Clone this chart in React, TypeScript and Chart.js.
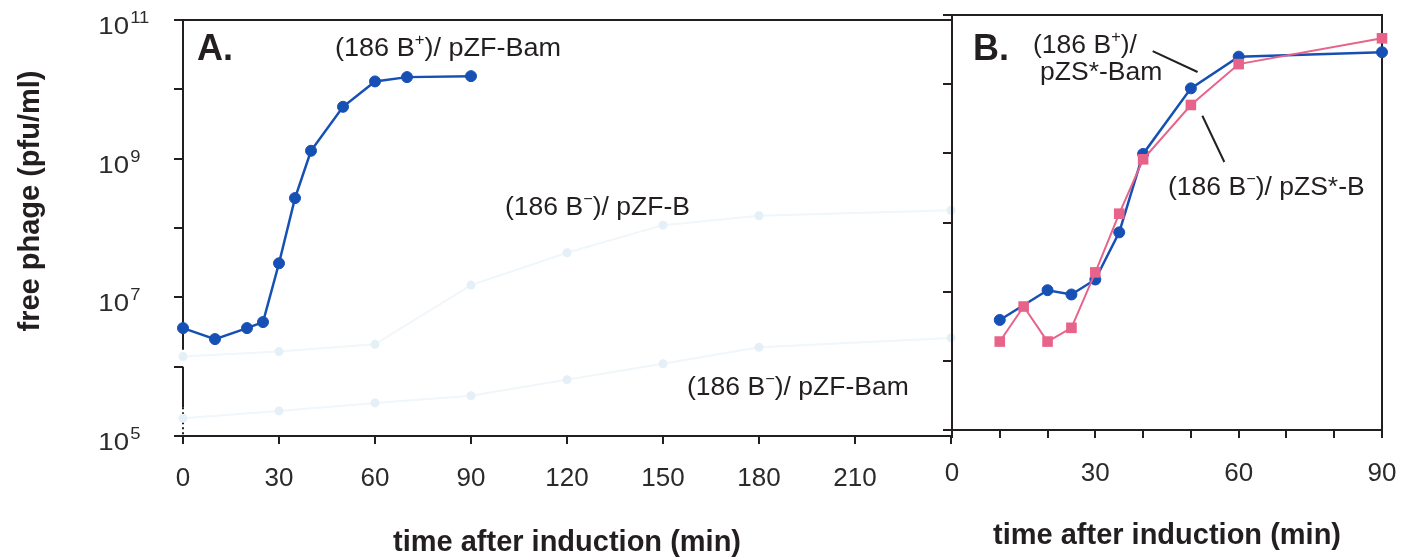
import React, { useEffect, useRef } from 'react';
import { Chart, registerables } from 'chart.js';

Chart.register(...registerables);

// ---------- Panel A data ----------
const timesA_Bplus = [0, 10, 20, 25, 30, 35, 40, 50, 60, 70, 90];
const pfuA_Bplus = [3.6e6, 2.5e6, 3.6e6, 4.4e6, 3.1e7, 2.7e8, 1.3e9, 5.6e9, 1.3e10, 1.5e10, 1.55e10];
const timesA_Bminus = [0, 30, 60, 90, 120, 150, 180, 240];
const pfuA_Bminus_pZFB = [1.4e6, 1.65e6, 2.1e6, 1.5e7, 4.4e7, 1.1e8, 1.5e8, 1.8e8];
const pfuA_Bminus_pZFBam = [1.8e5, 2.3e5, 3.0e5, 3.8e5, 6.5e5, 1.1e6, 1.9e6, 2.6e6];

// ---------- Panel B data ----------
const timesB_Bplus = [10, 20, 25, 30, 35, 40, 50, 60, 90];
const pfuB_Bplus = [3.9e6, 1.05e7, 9.1e6, 1.5e7, 7.2e7, 9.8e8, 8.7e9, 2.5e10, 2.9e10];
const timesB_Bminus = [10, 15, 20, 25, 30, 35, 40, 50, 60, 90];
const pfuB_Bminus = [1.9e6, 6.1e6, 1.9e6, 3.0e6, 1.9e7, 1.34e8, 8.2e8, 5.0e9, 1.95e10, 4.6e10];

// ---------- ticks ----------
const xTicksA = [0, 30, 60, 90, 120, 150, 180, 210, 240];
const xLabelsA = ['0', '30', '60', '90', '120', '150', '180', '210', ''];
const xTicksB = [0, 10, 20, 30, 40, 50, 60, 70, 80, 90];
const xLabelsB = ['0', '', '', '30', '', '', '60', '', '', '90'];
const yTickValues = [1e5, 1e6, 1e7, 1e8, 1e9, 1e10, 1e11];
const yLabelExponents = [5, 7, 9, 11];

// leader lines in panel B (time, pfu) -> (time, pfu)
const leaderLinesB = [
  [42, 3.0e10, 51.4, 1.5e10],
  [52.4, 3.5e9, 57, 7.5e8],
];

const FONT = '"Liberation Sans", Arial, Helvetica, sans-serif';
const INK = '#231f20';
const BLUE = '#1650b4';
const PINK = '#e8638a';
const FAINT_LINE = '#f0f6fa';
const FAINT_POINT = '#e4f0f7';

type Part = [string, boolean];

function drawRich(ctx: CanvasRenderingContext2D, x: number, y: number, parts: Part[], size: number, sx = 1, bold = false) {
  ctx.save();
  ctx.translate(x, y);
  ctx.scale(sx, 1);
  ctx.textAlign = 'left';
  ctx.textBaseline = 'alphabetic';
  ctx.fillStyle = INK;
  let cx = 0;
  for (const [txt, sup] of parts) {
    const s = sup ? Math.round(size * 0.62) : size;
    ctx.font = `${bold ? 'bold ' : ''}${s}px ${FONT}`;
    ctx.fillText(txt, cx, sup ? -size * 0.42 : 0);
    cx += ctx.measureText(txt).width;
  }
  ctx.restore();
}

function pts(xs: number[], ys: number[]) {
  return xs.map((x, i) => ({ x, y: ys[i] }));
}

function xScale(min: number, max: number, ticksArr: number[], labels: string[], pad: number, height: number, titlePad: number) {
  return {
    type: 'linear',
    min,
    max,
    afterBuildTicks: (s: any) => {
      s.ticks = ticksArr.map((v) => ({ value: v }));
    },
    ticks: {
      callback: (v: any) => {
        const i = ticksArr.indexOf(Number(v));
        return i >= 0 ? labels[i] : '';
      },
      font: { family: FONT, size: 26 },
      color: '#2b2b2b',
      padding: pad,
      maxRotation: 0,
      autoSkip: false,
    },
    grid: { drawOnChartArea: false, drawTicks: true, tickLength: 8, color: INK, lineWidth: 2 },
    border: { display: true, color: INK, width: 2 },
    title: {
      display: true,
      text: 'time after induction (min)',
      font: { family: FONT, size: 29, weight: 'bold', lineHeight: 1 },
      color: INK,
      padding: { top: 0, bottom: titlePad },
    },
    afterFit: (s: any) => {
      s.height = height;
      s.paddingLeft = 0;
      s.paddingRight = 0;
    },
  };
}

function yScale(width: number, border: boolean) {
  return {
    type: 'logarithmic',
    min: 1e5,
    max: 1e11,
    afterBuildTicks: (s: any) => {
      s.ticks = yTickValues.map((v) => ({ value: v }));
    },
    ticks: { callback: () => '', padding: 0 },
    grid: { drawOnChartArea: false, drawTicks: true, tickLength: 9, color: INK, lineWidth: 2 },
    border: { display: border, color: INK, width: 2 },
    afterFit: (s: any) => {
      s.width = width;
      s.paddingTop = 0;
      s.paddingBottom = 0;
    },
  };
}

export default function App() {
  const refA = useRef<HTMLCanvasElement>(null);
  const refB = useRef<HTMLCanvasElement>(null);

  useEffect(() => {
    const pluginA = {
      id: 'panelA',
      beforeDatasetsDraw(chart: any) {
        const { ctx, chartArea, scales } = chart;
        const { left, right, top, bottom } = chartArea;
        const y = scales.y;
        ctx.save();
        ctx.strokeStyle = INK;
        ctx.lineWidth = 2;
        ctx.beginPath();
        ctx.moveTo(left - 1, top);
        ctx.lineTo(right + 2, top);
        ctx.moveTo(left, top);
        ctx.lineTo(left, y.getPixelForValue(1.75e6));
        ctx.moveTo(left, y.getPixelForValue(1e6));
        ctx.lineTo(left, y.getPixelForValue(2.6e5));
        ctx.stroke();
        ctx.setLineDash([2, 3]);
        ctx.beginPath();
        ctx.moveTo(left, y.getPixelForValue(2.6e5));
        ctx.lineTo(left, bottom);
        ctx.stroke();
        ctx.restore();
      },
      afterDraw(chart: any) {
        const { ctx, scales } = chart;
        const y = scales.y;
        // y tick labels 10^n
        for (const e of yLabelExponents) {
          const py = y.getPixelForValue(Math.pow(10, e));
          ctx.save();
          ctx.fillStyle = '#2b2b2b';
          ctx.textBaseline = 'alphabetic';
          ctx.translate(129, py + 14);
          ctx.scale(1.15, 1);
          ctx.font = `24px ${FONT}`;
          ctx.textAlign = 'right';
          ctx.fillText('10', 0, 0);
          ctx.font = `16px ${FONT}`;
          ctx.textAlign = 'left';
          ctx.fillText(String(e), 1, -11);
          ctx.restore();
        }
        // y axis title
        ctx.save();
        ctx.translate(31, 201);
        ctx.rotate(-Math.PI / 2);
        ctx.font = `bold 29px ${FONT}`;
        ctx.fillStyle = INK;
        ctx.textAlign = 'center';
        ctx.textBaseline = 'middle';
        ctx.fillText('free phage (pfu/ml)', 0, 0);
        ctx.restore();
        // panel letter and labels
        drawRich(ctx, 197, 60, [['A.', false]], 36, 1, true);
        drawRich(ctx, 335, 56, [['(186 B', false], ['+', true], [')/ pZF-Bam', false]], 26, 1.04);
        drawRich(ctx, 505, 215, [['(186 B', false], ['\u2212', true], [')/ pZF-B', false]], 26, 1.02);
        drawRich(ctx, 687, 395, [['(186 B', false], ['\u2212', true], [')/ pZF-Bam', false]], 26, 1.02);
      },
    };

    const pluginB = {
      id: 'panelB',
      beforeDatasetsDraw(chart: any) {
        const { ctx, chartArea } = chart;
        const { left, right, top, bottom } = chartArea;
        ctx.save();
        ctx.strokeStyle = INK;
        ctx.lineWidth = 2;
        ctx.beginPath();
        ctx.moveTo(left - 1, top);
        ctx.lineTo(right, top);
        ctx.lineTo(right, bottom);
        ctx.stroke();
        ctx.restore();
      },
      afterDraw(chart: any) {
        const { ctx, scales } = chart;
        const xs = scales.x;
        const ys = scales.y;
        ctx.save();
        ctx.strokeStyle = INK;
        ctx.lineWidth = 2;
        for (const [t1, v1, t2, v2] of leaderLinesB) {
          ctx.beginPath();
          ctx.moveTo(xs.getPixelForValue(t1), ys.getPixelForValue(v1));
          ctx.lineTo(xs.getPixelForValue(t2), ys.getPixelForValue(v2));
          ctx.stroke();
        }
        ctx.restore();
        drawRich(ctx, 73, 60, [['B.', false]], 36, 1, true);
        drawRich(ctx, 133, 53, [['(186 B', false], ['+', true], [')/', false]], 26, 1.02);
        drawRich(ctx, 140, 80, [['pZS*-Bam', false]], 26, 1.02);
        drawRich(ctx, 268, 195, [['(186 B', false], ['\u2212', true], [')/ pZS*-B', false]], 26, 1.02);
      },
    };

    const chartA = new Chart(refA.current as HTMLCanvasElement, {
      type: 'line',
      data: {
        datasets: [
          {
            data: pts(timesA_Bplus, pfuA_Bplus),
            borderColor: BLUE,
            backgroundColor: BLUE,
            borderWidth: 2.5,
            pointRadius: 5.5,
            pointBackgroundColor: BLUE,
            pointBorderColor: BLUE,
            pointBorderWidth: 1,
            clip: false,
          },
          {
            data: pts(timesA_Bminus, pfuA_Bminus_pZFB),
            borderColor: FAINT_LINE,
            borderWidth: 2,
            pointRadius: 3.5,
            pointBackgroundColor: FAINT_POINT,
            pointBorderColor: FAINT_POINT,
            clip: false,
          },
          {
            data: pts(timesA_Bminus, pfuA_Bminus_pZFBam),
            borderColor: FAINT_LINE,
            borderWidth: 2,
            pointRadius: 3.5,
            pointBackgroundColor: FAINT_POINT,
            pointBorderColor: FAINT_POINT,
            clip: false,
          },
        ],
      } as any,
      options: {
        animation: false,
        responsive: false,
        events: [],
        layout: { padding: { left: 0, right: 9, top: 20, bottom: 0 } },
        plugins: { legend: { display: false }, tooltip: { enabled: false } },
        scales: {
          x: xScale(0, 240, xTicksA, xLabelsA, 19, 123, 2),
          y: yScale(183, false),
        } as any,
      },
      plugins: [pluginA],
    });

    const chartB = new Chart(refB.current as HTMLCanvasElement, {
      type: 'line',
      data: {
        datasets: [
          {
            data: pts(timesB_Bminus, pfuB_Bminus),
            borderColor: PINK,
            backgroundColor: PINK,
            borderWidth: 2,
            pointStyle: 'rect',
            pointRadius: 7.5,
            pointBackgroundColor: PINK,
            pointBorderColor: PINK,
            pointBorderWidth: 0,
            clip: false,
          },
          {
            data: pts(timesB_Bplus, pfuB_Bplus),
            borderColor: BLUE,
            backgroundColor: BLUE,
            borderWidth: 2.5,
            pointRadius: 5.5,
            pointBackgroundColor: BLUE,
            pointBorderColor: BLUE,
            pointBorderWidth: 1,
            clip: false,
          },
        ],
      } as any,
      options: {
        animation: false,
        responsive: false,
        events: [],
        layout: { padding: { left: 0, right: 22, top: 15, bottom: 0 } },
        plugins: { legend: { display: false }, tooltip: { enabled: false } },
        scales: {
          x: xScale(0, 90, xTicksB, xLabelsB, 20, 129, 9),
          y: yScale(52, true),
        } as any,
      },
      plugins: [pluginB],
    });

    return () => {
      chartA.destroy();
      chartB.destroy();
    };
  }, []);

  return (
    <div style={{ position: 'fixed', left: 0, top: 0, width: 1404, height: 559, background: '#fff' }}>
      <canvas ref={refA} width={960} height={559} style={{ position: 'absolute', left: 0, top: 0, width: 960, height: 559 }} />
      <canvas ref={refB} width={504} height={559} style={{ position: 'absolute', left: 900, top: 0, width: 504, height: 559 }} />
    </div>
  );
}
